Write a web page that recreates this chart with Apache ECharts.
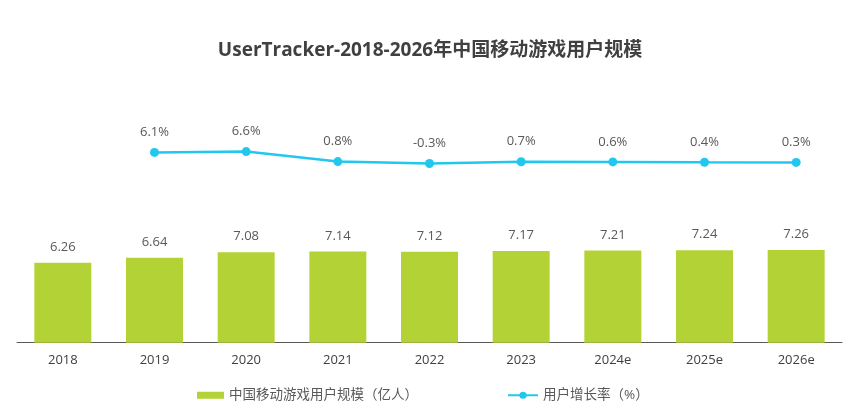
<!DOCTYPE html>
<html><head><meta charset="utf-8">
<script src="https://cdn.jsdelivr.net/npm/echarts@6/dist/echarts.min.js"></script>
<style>html,body{margin:0;padding:0;background:#fff}#c{width:860px;height:418px}</style>
</head><body><div id="c"></div>
<script>
const categories = ['2018','2019','2020','2021','2022','2023','2024e','2025e','2026e'];
const users = [6.26, 6.64, 7.08, 7.14, 7.12, 7.17, 7.21, 7.24, 7.26];
const growth = [null, 6.1, 6.6, 0.8, -0.3, 0.7, 0.6, 0.4, 0.3];
const barName = '中国移动游戏用户规模（亿人）';
const lineName = '用户增长率（%）';
const titleText = 'UserTracker-2018-2026年中国移动游戏用户规模';

const font = '"Open Sans", "Noto Sans CJK SC", sans-serif';
const legendText = { fontSize: 13.5, color: '#595959', fontFamily: font };
const chart = echarts.init(document.getElementById('c'));
chart.setOption({
  animation: false,
  textStyle: { fontFamily: font },
  title: {
    text: titleText, left: 'center', top: 36,
    textStyle: { fontSize: 19, fontWeight: 'bold', color: '#404040', fontFamily: font }
  },
  legend: [
    {
      bottom: 16, left: 197, padding: 0, itemTextGap: 6, textStyle: legendText,
      itemWidth: 27, itemHeight: 7,
      data: [{ name: barName, icon: 'rect' }]
    },
    {
      bottom: 16, left: 507, padding: 0, itemTextGap: 5, textStyle: legendText,
      itemWidth: 30, itemHeight: 9,
      data: [{ name: lineName }]
    }
  ],
  grid: { left: 17, right: 18, top: 87, bottom: 75.3 },
  xAxis: {
    type: 'category', data: categories,
    axisLine: { lineStyle: { color: '#595959', width: 1 } },
    axisTick: { show: false },
    axisLabel: { color: '#404040', fontSize: 13, margin: 11, fontFamily: font }
  },
  yAxis: [
    { type: 'value', min: 0, max: 20, show: false, splitLine: { show: false } },
    { type: 'value', min: -104.4, max: 44.1, show: false, splitLine: { show: false } }
  ],
  series: [
    {
      name: barName, type: 'bar', data: users, barWidth: 57,
      itemStyle: { color: '#b3d235' },
      label: { show: true, position: 'top', distance: 9, color: '#595959', fontSize: 13, fontFamily: font,
        formatter: p => p.value.toFixed(2) }
    },
    {
      name: lineName, type: 'line', yAxisIndex: 1, data: growth,
      symbol: 'circle', symbolSize: 9,
      lineStyle: { color: '#22c7f0', width: 2.5 },
      itemStyle: { color: '#22c7f0' },
      label: { show: true, position: 'top', distance: 9, color: '#595959', fontSize: 13, fontFamily: font,
        formatter: p => p.value.toFixed(1) + '%' }
    }
  ]
});
</script></body></html>
